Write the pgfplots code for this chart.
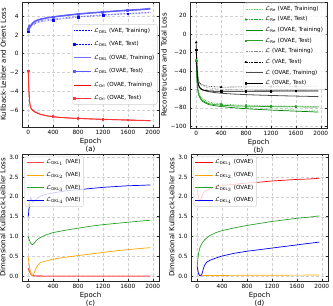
\documentclass[border=0pt]{standalone}
\usepackage{fontspec}
\setmainfont{DejaVu Sans}
\usepackage{pgfplots}
\usepackage{pgfplotstable}
\pgfplotsset{compat=1.18}
\definecolor{mgreen}{rgb}{0,0.5,0}
\definecolor{tgreen}{rgb}{0.17,0.63,0.17}
\definecolor{lgreen}{rgb}{0.45,0.85,0.45}
\definecolor{morange}{rgb}{1,0.65,0}

\pgfplotstableread{
e vt vs ot os rt rs
0 2.45 2.35 2.6 2.55 -1.9 -1.85
10 2.7 2.6 2.95 2.9 -3.8 -3.7
20 2.85 2.75 3.05 3.0 -5.0 -4.9
30 2.8 2.7 2.9 2.85 -5.5 -5.45
40 2.9 2.8 3.0 2.95 -5.75 -5.7
50 3.0 2.9 3.1 3.05 -5.9 -5.85
75 3.15 3.05 3.3 3.25 -6.05 -6.0
100 3.25 3.15 3.45 3.4 -6.2 -6.15
150 3.4 3.3 3.6 3.55 -6.35 -6.3
200 3.5 3.4 3.7 3.65 -6.48 -6.45
300 3.62 3.5 3.83 3.8 -6.62 -6.6
400 3.7 3.58 3.93 3.9 -6.72 -6.7
500 3.77 3.66 4.02 3.98 -6.78 -6.76
600 3.83 3.73 4.1 4.06 -6.83 -6.81
700 3.9 3.8 4.17 4.13 -6.87 -6.85
800 3.95 3.88 4.24 4.2 -6.9 -6.88
1000 4.05 3.98 4.35 4.32 -6.95 -6.93
1200 4.15 4.08 4.45 4.42 -7.0 -6.98
1400 4.22 4.16 4.55 4.52 -7.03 -7.02
1600 4.3 4.24 4.64 4.6 -7.07 -7.05
1800 4.36 4.3 4.72 4.68 -7.1 -7.09
1960 4.42 4.35 4.82 4.76 -7.15 -7.12
}\tabA

\pgfplotstableread{
e rvt rvs rot ros lvt lvs lot los
0 -30 -28 -30 -29 -10 -9 -12 -17
10 -45 -44 -48 -46 -30 -28 -34 -36
20 -55 -54 -58 -56 -42 -40 -46 -47
30 -60 -60 -63 -62 -48 -46 -52 -53
40 -64 -63 -66 -65 -51 -50 -55 -56
50 -66 -65 -68 -67 -53 -52 -57 -58
75 -69 -68 -71 -70 -55 -54 -59 -59.5
100 -71 -70 -73 -72 -56.5 -55 -60.5 -60.5
150 -73 -72 -75 -74 -57.5 -56 -61.7 -61.3
200 -74.5 -73.5 -76.5 -75.5 -58.3 -56.6 -62.5 -61.7
300 -76 -75 -77.8 -76.6 -59.2 -57.2 -63.5 -62
400 -77 -75.8 -78.6 -77.2 -59.8 -57.5 -64.2 -62.1
500 -77.8 -76.3 -79.3 -77.6 -60.1 -57.5 -64.7 -62.1
600 -78.5 -76.7 -80 -77.9 -60.3 -57.4 -65.1 -62.1
700 -79 -77 -80.5 -78.1 -60.5 -57.3 -65.4 -62
800 -79.5 -77.2 -81 -78.3 -60.6 -57.2 -65.7 -62
1000 -80.3 -77.6 -81.8 -78.5 -60.8 -57 -66.2 -61.9
1200 -81 -77.9 -82.5 -78.7 -61 -56.9 -66.6 -61.9
1400 -81.6 -78.1 -83.1 -78.9 -61.1 -56.8 -67 -61.8
1600 -82.2 -78.3 -83.7 -79 -61.2 -56.7 -67.3 -61.8
1800 -82.7 -78.4 -84.2 -79.1 -61.3 -56.6 -67.6 -61.7
1960 -83.2 -78.5 -84.7 -79.2 -61.4 -56.5 -67.9 -61.7
}\tabB

\pgfplotstableread{
e r o g b
0 0.2 0.48 1.0 1.5
10 0.16 0.35 0.95 1.65
20 0.12 0.24 0.9 1.8
30 0.09 0.15 0.86 1.93
40 0.06 0.08 0.83 2.0
50 0.04 0.04 0.81 1.95
60 0.03 0.02 0.8 1.88
70 0.02 0.02 0.8 1.86
80 0.015 0.04 0.81 1.87
100 0.01 0.1 0.84 1.9
120 0.008 0.18 0.88 1.93
150 0.006 0.27 0.93 1.97
200 0.005 0.35 0.98 2.02
300 0.004 0.39 1.05 2.07
400 0.004 0.43 1.1 2.1
600 0.003 0.48 1.16 2.15
800 0.003 0.52 1.21 2.18
1000 0.003 0.56 1.26 2.21
1200 0.003 0.6 1.3 2.24
1400 0.003 0.64 1.33 2.26
1600 0.003 0.67 1.36 2.28
1800 0.003 0.7 1.39 2.29
1960 0.003 0.72 1.41 2.3
}\tabC

\pgfplotstableread{
e r o g b
0 2.2 0.22 0.25 0.25
10 2.1 0.15 0.42 0.15
20 2.0 0.1 0.55 0.07
30 1.93 0.06 0.64 0.03
40 1.88 0.04 0.7 0.01
50 1.9 0.03 0.75 0.01
60 1.95 0.02 0.78 0.02
70 2.0 0.02 0.81 0.04
80 2.05 0.02 0.84 0.08
100 2.1 0.02 0.88 0.2
120 2.13 0.02 0.92 0.28
150 2.16 0.02 0.96 0.35
200 2.2 0.02 1.02 0.4
300 2.25 0.02 1.1 0.46
400 2.28 0.02 1.15 0.51
600 2.32 0.022 1.22 0.58
800 2.35 0.024 1.28 0.63
1000 2.37 0.025 1.33 0.67
1200 2.4 0.026 1.38 0.71
1400 2.42 0.027 1.42 0.75
1600 2.44 0.028 1.46 0.79
1800 2.45 0.029 1.49 0.83
1960 2.47 0.03 1.52 0.86
}\tabD

\newcommand{\Ls}[1]{$\mathcal{L}_{\mathrm{#1}}$}
\pgfplotsset{
  panel/.style={
    scale only axis, width=137bp, anchor=south west,
    xmin=-100, xmax=2100, xtick={0,400,...,2000},
    grid=major, grid style={densely dashed, black!18, line width=0.4bp},
    tick align=inside, major tick length=2bp,
    axis line style={black!85, line width=0.6bp},
    tick style={black!85, line width=0.5bp},
    /pgf/number format/assume math mode=true,
    /pgf/number format/1000 sep={},
    scaled ticks=false,
    tick label style={font=\fontsize{5.8bp}{6.5bp}\selectfont},
    label style={font=\fontsize{7bp}{7.6bp}\selectfont},
    xlabel style={align=center, yshift=3bp},
    ylabel style={yshift=-3bp},
    xticklabel style={yshift=0.5bp},
    legend cell align=left,
    legend style={font=\fontsize{5.6bp}{6bp}\selectfont, draw=black!18, rounded corners=1.5bp,
      fill=white, fill opacity=0.8, text opacity=1, inner sep=1.2bp, row sep=2.2bp},
  },
  every axis plot/.append style={line join=round},
}

\begin{document}
\begin{tikzpicture}[x=1bp,y=1bp]
\useasboundingbox (0,0) rectangle (333,306);

% (a)
\begin{axis}[panel, at={(22bp,179bp)}, height=125bp,
  ymin=-7.8, ymax=5.5, ytick={-6,-4,-2,0,2,4},
  yticklabels={−6,−4,−2,0,2,4},
  xlabel={Epoch\\(a)}, ylabel={Kullback-Leibler and Orient Loss},
  legend style={at={(0.99,0.5)}, anchor=east, row sep=3.8bp}]
\addplot[blue, densely dotted, line width=0.5bp] table[x=e,y=vt]{\tabA};
\addlegendentry{\Ls{DKL} (VAE, Training)}
\addplot[blue, densely dotted, line width=0.5bp, mark=square*, mark size=0.8bp, mark options={solid}, mark indices={1,12,16,18,20}] table[x=e,y=vs]{\tabA};
\addlegendentry{\Ls{DKL} (VAE, Test)}
\addplot[blue!55, line width=1.2bp] table[x=e,y=ot]{\tabA};
\addlegendentry{\Ls{DKL} (OVAE, Training)}
\addplot[blue!65, line width=1.2bp, mark=square*, mark size=0.9bp, mark indices={1,12,16,18,20}] table[x=e,y=os]{\tabA};
\addlegendentry{\Ls{DKL} (OVAE, Test)}
\addplot[red, line width=0.6bp] table[x=e,y=rt]{\tabA};
\addlegendentry{\Ls{Ori} (OVAE, Training)}
\addplot[red!80, line width=0.9bp, mark=square*, mark size=0.8bp, mark indices={1,12,16,18,20}] table[x=e,y=rs]{\tabA};
\addlegendentry{\Ls{Ori} (OVAE, Test)}
\end{axis}

% (b)
\begin{axis}[panel, at={(190bp,178bp)}, height=126bp,
  ymin=-102, ymax=35, ytick={-100,-80,...,20},
  yticklabels={−100,−80,−60,−40,−20,0,20},
  xlabel={Epoch\\(b)}, ylabel={Reconstruction and Total Loss},
  legend style={at={(0.995,0.995)}, anchor=north east, row sep=0.9bp}]
\addplot[lgreen, densely dotted, line width=0.6bp] table[x=e,y=rvt]{\tabB};
\addlegendentry{\Ls{Re} (VAE, Training)}
\addplot[tgreen, densely dotted, line width=0.6bp, mark=triangle*, mark size=1bp, mark options={solid}, mark indices={1,12,16,18,20}] table[x=e,y=rvs]{\tabB};
\addlegendentry{\Ls{Re} (VAE, Test)}
\addplot[mgreen, line width=0.7bp] table[x=e,y=rot]{\tabB};
\addlegendentry{\Ls{Re} (OVAE, Training)}
\addplot[tgreen, line width=0.7bp, mark=square*, mark size=0.8bp, mark indices={1,12,16,18,20}] table[x=e,y=ros]{\tabB};
\addlegendentry{\Ls{Re} (OVAE, Test)}
\addplot[black!45, densely dotted, line width=0.6bp] table[x=e,y=lvt]{\tabB};
\addlegendentry{$\mathcal{L}$ (VAE, Training)}
\addplot[black, densely dotted, line width=0.6bp, mark=triangle*, mark size=1bp, mark options={solid}, mark indices={1,12,16,18,20}] table[x=e,y=lvs]{\tabB};
\addlegendentry{$\mathcal{L}$ (VAE, Test)}
\addplot[black!70, line width=0.8bp] table[x=e,y=lot]{\tabB};
\addlegendentry{$\mathcal{L}$ (OVAE, Training)}
\addplot[black, line width=0.8bp, mark=square*, mark size=0.8bp, mark indices={1,12,16,18,20}] table[x=e,y=los]{\tabB};
\addlegendentry{$\mathcal{L}$ (OVAE, Test)}
\end{axis}

% (c)
\begin{axis}[panel, at={(22bp,25bp)}, height=127bp,
  ymin=-0.12, ymax=3.08, ytick={0,0.5,...,3},
  yticklabels={0.0,0.5,1.0,1.5,2.0,2.5,3.0},
  xlabel={Epoch\\(c)}, ylabel={Dimensional Kullback-Leibler Loss},
  legend style={at={(0.02,0.985)}, anchor=north west, row sep=3bp}]
\addplot[red!70, line width=1.1bp] table[x=e,y=r]{\tabC};
\addlegendentry{$\mathcal{L}_{\mathrm{DKL}_1}$ (VAE)}
\addplot[morange, line width=0.7bp] table[x=e,y=o]{\tabC};
\addlegendentry{$\mathcal{L}_{\mathrm{DKL}_2}$ (VAE)}
\addplot[tgreen, line width=0.7bp] table[x=e,y=g]{\tabC};
\addlegendentry{$\mathcal{L}_{\mathrm{DKL}_3}$ (VAE)}
\addplot[blue, line width=0.7bp] table[x=e,y=b]{\tabC};
\addlegendentry{$\mathcal{L}_{\mathrm{DKL}_4}$ (VAE)}
\end{axis}

% (d)
\begin{axis}[panel, at={(191bp,25bp)}, height=127bp,
  ymin=-0.12, ymax=3.08, ytick={0,0.5,...,3},
  yticklabels={0.0,0.5,1.0,1.5,2.0,2.5,3.0},
  xlabel={Epoch\\(d)}, ylabel={Dimensional Kullback-Leibler Loss},
  legend style={at={(0.02,0.985)}, anchor=north west, row sep=3bp}]
\addplot[red, line width=0.7bp] table[x=e,y=r]{\tabD};
\addlegendentry{$\mathcal{L}_{\mathrm{DKL}_1}$ (OVAE)}
\addplot[morange, line width=0.7bp] table[x=e,y=o]{\tabD};
\addlegendentry{$\mathcal{L}_{\mathrm{DKL}_2}$ (OVAE)}
\addplot[tgreen, line width=0.7bp] table[x=e,y=g]{\tabD};
\addlegendentry{$\mathcal{L}_{\mathrm{DKL}_3}$ (OVAE)}
\addplot[blue, line width=0.7bp] table[x=e,y=b]{\tabD};
\addlegendentry{$\mathcal{L}_{\mathrm{DKL}_4}$ (OVAE)}
\end{axis}
\end{tikzpicture}
\end{document}
